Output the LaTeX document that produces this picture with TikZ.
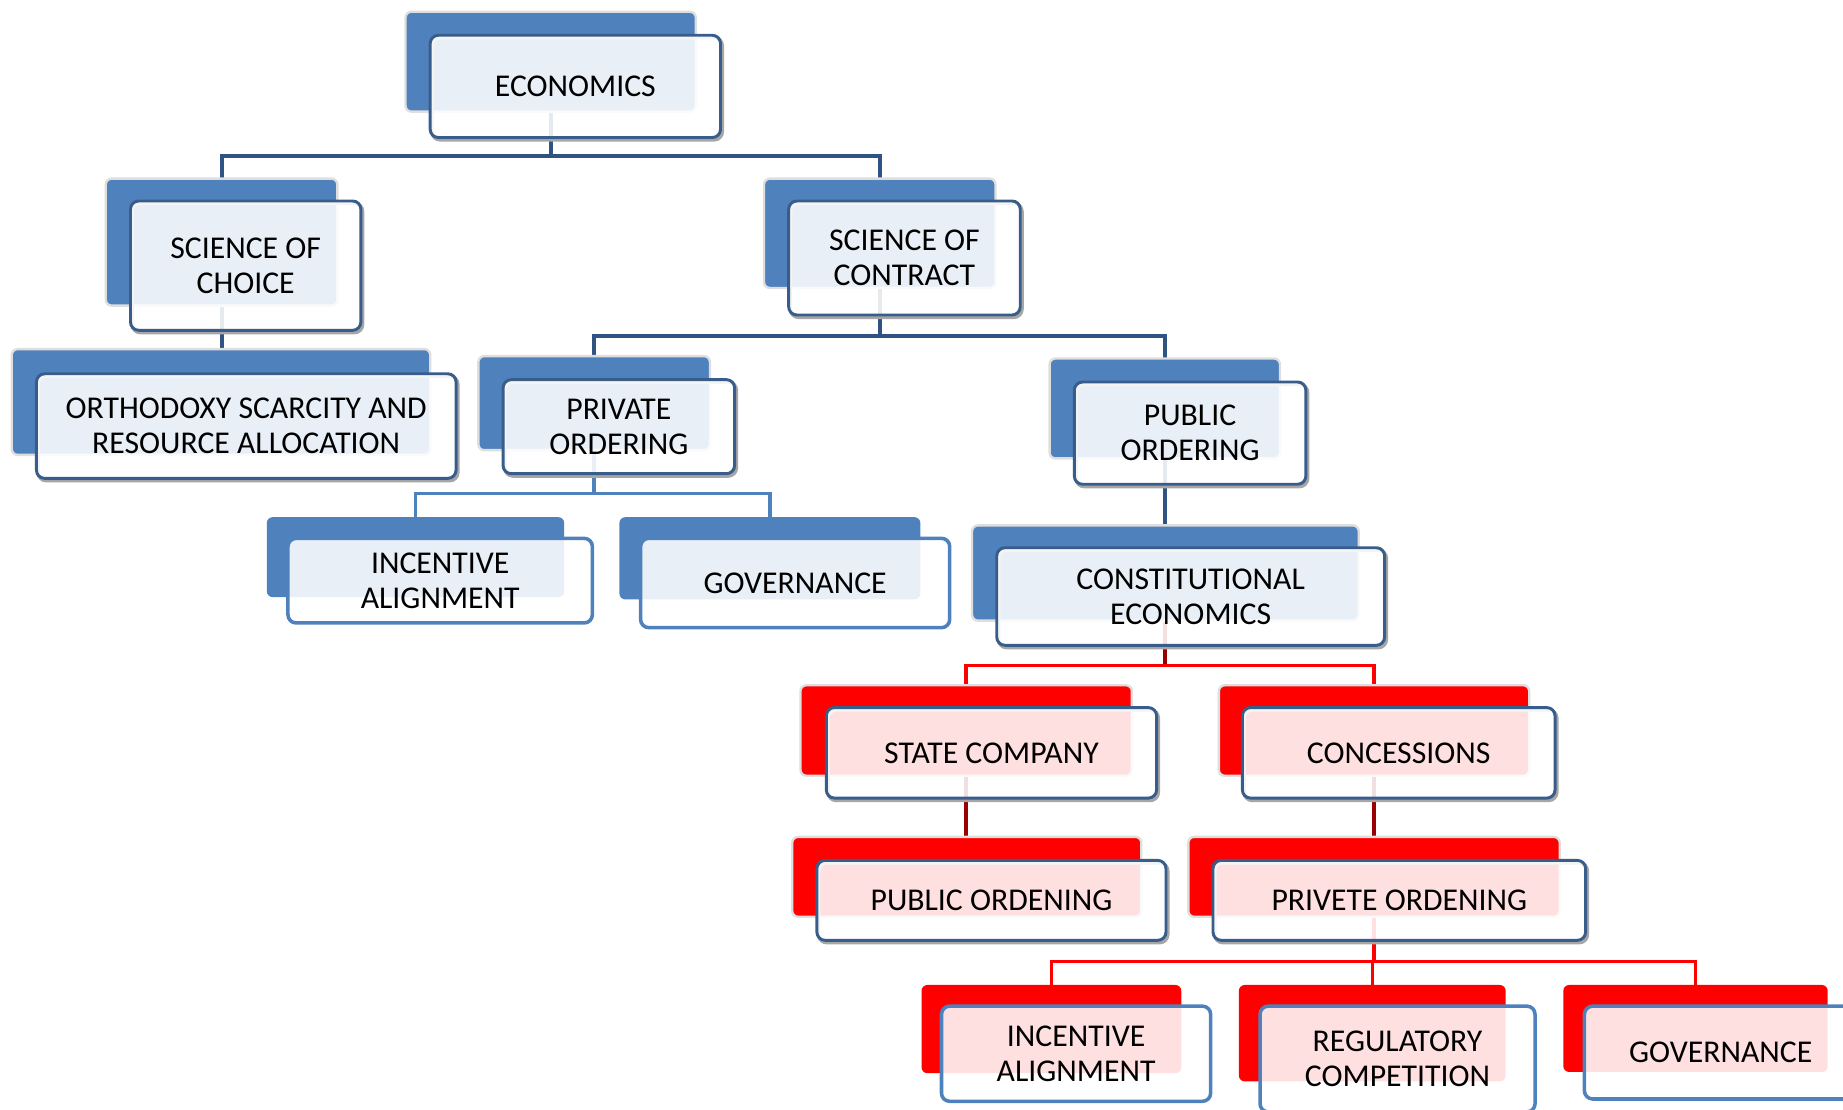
\documentclass[tikz,border=0pt]{standalone}
\usepackage{fontspec}
\setmainfont{Carlito}
\usetikzlibrary{calc}
\definecolor{bblue}{HTML}{4F81BD}
\definecolor{fedge}{HTML}{385D8A}
\definecolor{cblue}{HTML}{2F5382}
\definecolor{dred}{HTML}{9A0000}
\pgfdeclarelayer{bg}\pgfsetlayers{bg,main}
\newcommand\lblfont{\fontsize{27}{30}\selectfont}
\tikzset{
  boxbase/.style={rectangle, inner sep=0pt, outer sep=0pt},
  bb/.style={boxbase, rounded corners=5pt, fill=bblue, draw=black!13, line width=2pt},
  rb/.style={boxbase, rounded corners=5pt, fill=red, draw=black!13, line width=2pt},
  bp/.style={boxbase, rounded corners=5pt, fill=bblue},
  rp/.style={boxbase, rounded corners=5pt, fill=red},
  fb/.style={boxbase, rounded corners=7pt, draw=fedge, line width=2.5pt, fill=white,
    fill opacity=0.88, text opacity=1, draw opacity=1, align=center, font=\lblfont,
    preaction={draw=black!35, line width=3pt, fill=none, draw opacity=1,
      transform canvas={shift={(1.5pt,-2pt)}}}},
  fp/.style={boxbase, rounded corners=7pt, draw=bblue, line width=3pt, fill=white,
    fill opacity=0.88, text opacity=1, draw opacity=1, align=center, font=\lblfont},
  cb/.style={draw=cblue, line width=3.5pt},
  cbl/.style={draw=bblue, line width=3pt},
  cr/.style={draw=red, line width=3pt},
  cdr/.style={draw=dred, line width=3.5pt},
}
\begin{document}
\begin{tikzpicture}[x=1pt,y=-1pt]
\useasboundingbox (0,0) rectangle (1568,944);
\clip (0,0) rectangle (1568,944);
% level 0
\node[bb, minimum width=247pt, minimum height=85pt] (econB) at (468.5,52.5) {};
\node[fb, minimum width=247pt, minimum height=87pt] (econ) at (489.5,73.5) {ECONOMICS};
% level 1
\node[bb, minimum width=197pt, minimum height=108pt] (choiceB) at (188.5,206) {};
\node[fb, minimum width=196pt, minimum height=110pt] (choice) at (209,226) {SCIENCE OF\\CHOICE};
\node[bb, minimum width=197pt, minimum height=93pt] (contractB) at (748.5,198.5) {};
\node[fb, minimum width=197pt, minimum height=97pt] (contract) at (769.5,219.5) {SCIENCE OF\\CONTRACT};
% level 2
\node[bb, minimum width=356pt, minimum height=90pt] (orthoB) at (188,342) {};
\node[fb, minimum width=357pt, minimum height=89pt] (ortho) at (209.5,362.5) {ORTHODOXY SCARCITY AND\\RESOURCE ALLOCATION};
\node[bb, minimum width=197pt, minimum height=80pt] (privB) at (505.5,343) {};
\node[fb, minimum width=197pt, minimum height=80pt] (priv) at (526.5,363) {PRIVATE\\ORDERING};
\node[bb, minimum width=196pt, minimum height=85pt] (pubB) at (991,347.5) {};
\node[fb, minimum width=197pt, minimum height=87pt] (pub) at (1012.5,368.5) {PUBLIC\\ORDERING};
% level 3
\node[bp, minimum width=253pt, minimum height=68pt] (incB) at (353.5,474) {};
\node[fp, minimum width=259pt, minimum height=72pt] (inc) at (374.5,494) {INCENTIVE\\ALIGNMENT};
\node[bp, minimum width=256pt, minimum height=70pt] (govB) at (655,475) {};
\node[fp, minimum width=263pt, minimum height=76pt] (gov) at (676.5,496) {GOVERNANCE};
\node[bb, minimum width=329pt, minimum height=81pt] (constB) at (991.5,487.5) {};
\node[fb, minimum width=330pt, minimum height=83pt] (const) at (1013,507.5) {CONSTITUTIONAL\\ECONOMICS};
% level 4
\node[rb, minimum width=282pt, minimum height=77pt] (stateB) at (822,621.5) {};
\node[fb, minimum width=281pt, minimum height=77pt] (state) at (843.5,640.5) {STATE COMPANY};
\node[rb, minimum width=264pt, minimum height=77pt] (concB) at (1169,621.5) {};
\node[fb, minimum width=266pt, minimum height=77pt] (conc) at (1190,640.5) {CONCESSIONS};
% level 5
\node[rb, minimum width=297pt, minimum height=68pt] (pordB) at (822.5,746) {};
\node[fb, minimum width=297pt, minimum height=68pt] (pord) at (843.5,766) {PUBLIC ORDENING};
\node[rb, minimum width=316pt, minimum height=68pt] (prvB) at (1169,746) {};
\node[fb, minimum width=317pt, minimum height=68pt] (prv) at (1190.5,766) {PRIVETE ORDENING};
% level 6
\node[rp, minimum width=221pt, minimum height=75pt] (inc2B) at (894.5,875.5) {};
\node[fp, minimum width=229pt, minimum height=81pt] (inc2) at (915.5,896.5) {INCENTIVE\\ALIGNMENT};
\node[rp, minimum width=227pt, minimum height=82pt] (regB) at (1167.5,879) {};
\node[fp, minimum width=234pt, minimum height=90pt] (reg) at (1189,901) {REGULATORY\\COMPETITION};
\node[rp, minimum width=225pt, minimum height=74pt] (gov2B) at (1442.5,875) {};
\node[fp, minimum width=232pt, minimum height=79pt] (gov2) at (1464,895.5) {GOVERNANCE};
% connectors
\begin{pgfonlayer}{bg}
\coordinate (bus1) at (0,133);
\coordinate (bus2) at (0,286);
\coordinate (bus3) at (0,420);
\coordinate (bus4) at (0,566);
\coordinate (bus5) at (0,818);
\draw[cb] (econB.center) -- (econB.center |- bus1);
\draw[cb] (choiceB.north) |- (contractB.north |- bus1) -- (contractB.north);
\draw[cb] (choiceB.center) -- (choiceB.center |- orthoB.north);
\draw[cb] (contractB.center) -- (contractB.center |- bus2);
\draw[cb] (privB.north) |- (pubB.north |- bus2) -- (pubB.north);
\draw[cbl] (privB.center) -- (privB.center |- bus3);
\draw[cbl] (incB.north) |- (govB.north |- bus3) -- (govB.north);
\draw[cb] (pubB.center) -- (pubB.center |- constB.north);
\draw[cdr] (constB.center) -- (constB.center |- bus4);
\draw[cr] (stateB.north) |- (concB.north |- bus4) -- (concB.north);
\draw[cdr] (stateB.center) -- (stateB.center |- pordB.north);
\draw[cdr] (concB.center) -- (concB.center |- prvB.north);
\draw[cr] (prvB.center) -- (prvB.center |- bus5);
\draw[cr] (inc2B.north) |- (gov2B.north |- bus5) -- (gov2B.north);
\draw[cr] (regB.north) -- (regB.north |- bus5);
\end{pgfonlayer}
\end{tikzpicture}
\end{document}
